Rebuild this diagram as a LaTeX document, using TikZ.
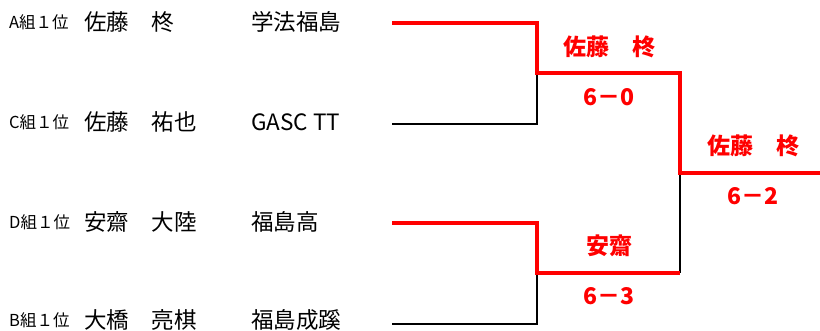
\documentclass[tikz,border=0pt]{standalone}
\usepackage{fontspec}
\setmainfont{Noto Sans CJK JP}
\begin{document}
\begin{tikzpicture}[x=1pt,y=-1pt,
  grp/.style={anchor=west,inner sep=0pt,font=\fontsize{16.5}{16.5}\selectfont},
  nm/.style={anchor=west,inner sep=0pt,font=\fontsize{22.5}{22.5}\selectfont},
  res/.style={inner sep=0pt,text=red,font=\bfseries\fontsize{23}{23}\selectfont},
  win/.style={draw=red,line width=3.5pt},
  lose/.style={draw=black,line width=2.2pt}]
\useasboundingbox (0,0) rectangle (820,331);
% left column
\node[grp] (gA) at (9,22) {A組１位};
\node[nm] (nA) at (84,22) {佐藤　柊};
\node[nm] (sA) at (251,22) {学法福島};
\node[grp] (gC) at (9,122) {C組１位};
\node[nm] (nC) at (84,122) {佐藤　祐也};
\node[nm] (sC) at (251,122) {GASC TT};
\node[grp] (gD) at (9,222) {D組１位};
\node[nm] (nD) at (84,222) {安齋　大陸};
\node[nm] (sD) at (251,222) {福島高};
\node[grp] (gB) at (9,320) {B組１位};
\node[nm] (nB) at (84,319.5) {大橋　亮棋};
\node[nm] (sB) at (251,319.5) {福島成蹊};
% bracket points
\coordinate (pA) at (392,23);
\coordinate (pC) at (392,124);
\coordinate (pD) at (392,223);
\coordinate (pB) at (392,324);
\coordinate (m1) at (537,73);
\coordinate (m2) at (537,273);
\coordinate (f) at (680,173);
\coordinate (fe) at (820,173);
\coordinate (m2f) at (680,273);
% losers (black)
\draw[lose] (pC) -| (m1);
\draw[lose] (pB) -| (m2);
\draw[lose] (m2f) -- (f);
% winners (red)
\draw[win] (pA) -| (m1) -| (f) -- (fe);
\draw[win] (pD) -| (m2) -- (m2f);
% results
\node[res] (w1) at (609,47) {佐藤　柊};
\node[res] (r1) at (609,97) {6－0};
\node[res] (w2) at (609,246) {安齋};
\node[res] (r2) at (609,296) {6－3};
\node[res] (w3) at (753,146) {佐藤　柊};
\node[res] (r3) at (753,196) {6－2};
\end{tikzpicture}
\end{document}
